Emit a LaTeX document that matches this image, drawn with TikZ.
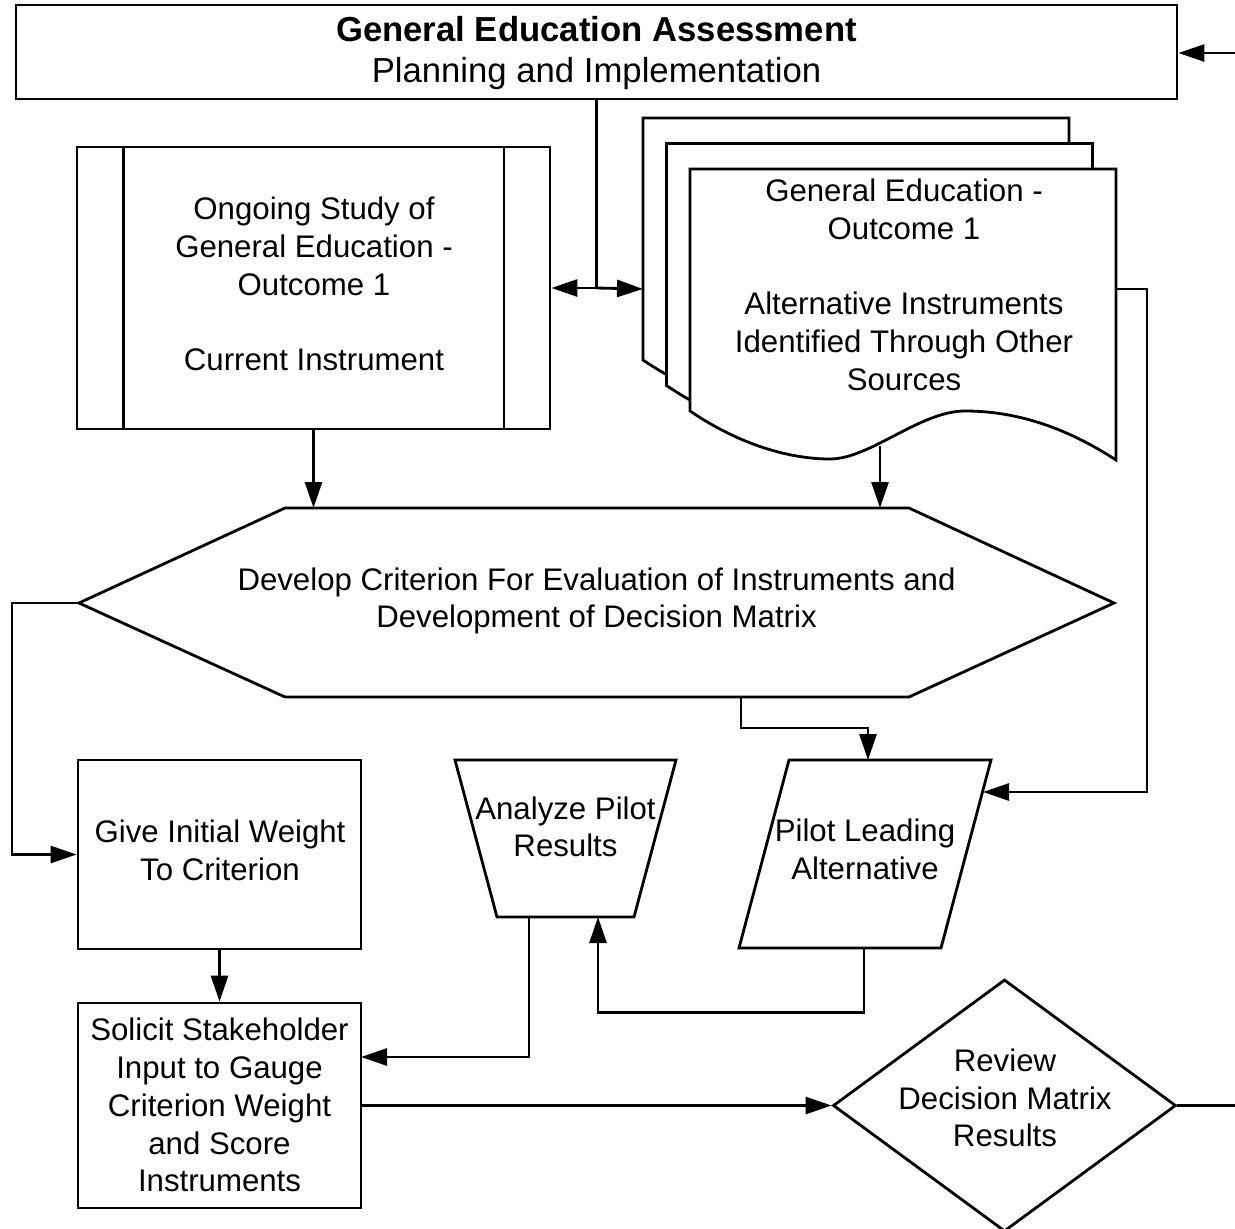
\documentclass[tikz,border=0pt]{standalone}
\usepackage{fontspec}
\setmainfont{Liberation Sans}
\usetikzlibrary{arrows.meta,shapes.geometric}
\newcommand\labelfont{\fontsize{31.2pt}{37.7pt}\selectfont}
\newcommand\titlefont{\fontsize{34.7pt}{41pt}\selectfont}
\begin{document}
\begin{tikzpicture}[x=1pt,y=-1pt,
  line width=2.8pt, line join=miter,
  outline/.style={draw=black, line width=2.8pt, fill=white},
  box/.style={outline, rectangle, inner sep=0pt},
  % text nodes are placed by the baseline of their last line
  txt/.style={align=center, font=\labelfont, inner sep=0pt, anchor=base},
  wire/.style={draw=black, line width=2.8pt},
  flow/.style={wire, -{Triangle[length=26pt,width=17pt]}},
]
\useasboundingbox (0,0) rectangle (1235,1229);
\fill[white] (0,0) rectangle (1235,1229);

% --- planning box at the top
\node[box, minimum width=1161pt, minimum height=94pt] (plan) at (596.5,52) {};
\node[txt, font=\titlefont] (planT) at (596.5,82.7)
  {\textbf{General Education Assessment}\\Planning and Implementation};

% --- current instrument (predefined process)
\node[box, minimum width=473pt, minimum height=282pt] (study) at (313.5,288) {};
\draw[wire] ([xshift=47.5pt]study.north west) -- ([xshift=47.5pt]study.south west);
\draw[wire] ([xshift=-47.5pt]study.north east) -- ([xshift=-47.5pt]study.south east);
\node[txt] (studyT) at (314,370.5)
  {Ongoing Study of\\General Education -\\Outcome 1\\[37.7pt]Current Instrument};

% --- alternative instruments (stack of documents)
\foreach \s in {2,1,0} {
  \draw[outline, shift={(-23.5*\s,-25.5*\s)}]
    (690,169) -- (1116,169) -- (1116,460)
    .. controls (1070,430) and (1020,411) .. (965,411)
    .. controls (920,411) and (870,459) .. (830,459)
    .. controls (790,459) and (740,445) .. (690,411) -- cycle;
}
\coordinate (docL) at (643,289);
\coordinate (docR) at (1116,289);
\coordinate (docB) at (880,446);
\node[txt] (docT) at (904,390.3)
  {General Education -\\Outcome 1\\[37.7pt]Alternative Instruments\\Identified Through Other\\Sources};

% --- criterion development (hexagon)
\draw[outline] (79,603) -- (285,508) -- (909,508) -- (1114,603) -- (909,697) -- (285,697) -- cycle;
\coordinate (hexW) at (79,603);
\coordinate (hexN) at (597,508);
\coordinate (hexS) at (741,697);
\node[txt] (hexT) at (596.5,627.7)
  {Develop Criterion For Evaluation of Instruments and\\Development of Decision Matrix};

% --- weighting boxes
\node[box, minimum width=283pt, minimum height=189pt] (give) at (219.5,854.5) {};
\node[txt] (giveT) at (220,880) {Give Initial Weight\\To Criterion};
\node[box, minimum width=283pt, minimum height=205pt] (solicit) at (219.5,1105.5) {};
\node[txt] (solicitT) at (219.5,1191.7)
  {Solicit Stakeholder\\Input to Gauge\\Criterion Weight\\and Score\\Instruments};
\coordinate (solicitIn) at (361,1057);

% --- analyze pilot results (trapezoid)
\draw[outline] (455,760) -- (676,760) -- (634,917) -- (497,917) -- cycle;
\coordinate (anaIn) at (598,917);
\coordinate (anaOut) at (529,917);
\node[txt] (anaT) at (565.5,856.7) {Analyze Pilot\\Results};

% --- pilot leading alternative (parallelogram)
\draw[outline] (789,760) -- (991,760) -- (941,948) -- (739,948) -- cycle;
\coordinate (pilotN) at (868,760);
\coordinate (pilotE) at (983,792);
\coordinate (pilotS) at (864,948);
\node[txt] (pilotT) at (865,879) {Pilot Leading\\Alternative};

% --- review decision (diamond)
\node[outline, diamond, inner sep=0pt, minimum width=343pt, minimum height=252pt] (review) at (1004.5,1105.5) {};
\node[txt] (reviewT) at (1005,1146.7) {Review\\Decision Matrix\\Results};

% --- loop ends leaving the sheet
\coordinate (loopIn) at (1240,53);
\coordinate (exitR) at (1240,1105.5);

% --- connectors
\coordinate (split) at (plan.south |- study.east);
\draw[wire] (plan.south) -- (split);
\draw[flow] (split) -- (study.east);
\draw[flow] (split) -- (docL);
\draw[flow] (study.south) -- (study.south |- hexN);
\draw[flow] (docB) -- (docB |- hexN);
\draw[flow] (hexW) -- ++(-67,0) |- (give.west);
\draw[flow] (hexS) -- ++(0,31) -| (pilotN);
\draw[flow] (docR) -- ++(31,0) |- (pilotE);
\draw[flow] (pilotS) -- ++(0,64.5) -| (anaIn);
\draw[flow] (anaOut) |- (solicitIn);
\draw[flow] (give.south) -- (solicit.north);
\draw[flow] (solicit.east) -- (review.west);
\draw[wire] (review.east) -- (exitR);
\draw[flow] (loopIn) -- (plan.east |- loopIn);
\end{tikzpicture}
\end{document}
